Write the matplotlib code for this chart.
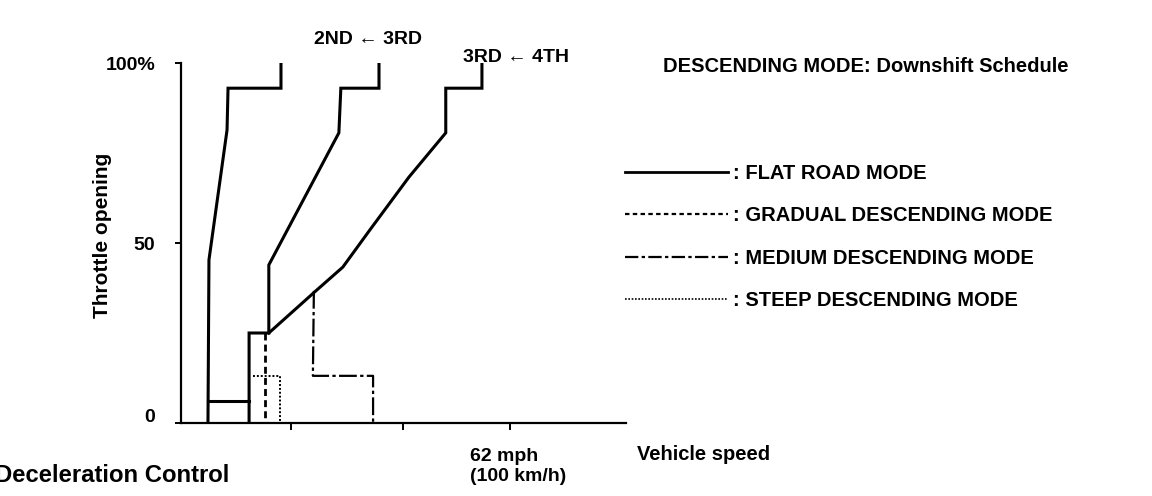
import matplotlib
matplotlib.use('Agg')
import matplotlib.pyplot as plt
from matplotlib.lines import Line2D
from matplotlib.transforms import ScaledTranslation

plt.rcParams['font.family'] = ['Liberation Sans', 'DejaVu Sans']
plt.rcParams['font.weight'] = 'bold'

# vehicle speed in km/h, throttle opening in %
flat_12_x = [30.4, 30.4, 14.3, 14.0, 8.5, 8.2]
flat_12_y = [100, 93, 93, 81.4, 45.3, 0]
flat_box_x = [8.2, 20.7]
flat_box_y = [6.1, 6.1]
flat_23_x = [60.2, 60.2, 48.6, 48.0, 26.7, 26.7, 20.7, 20.7]
flat_23_y = [100, 93, 93, 80.6, 43.9, 25, 25, 0]
flat_34_x = [91.5, 91.5, 80.5, 80.5, 69.3, 57.4, 49.2, 41.0, 26.7]
flat_34_y = [100, 93, 93, 80.6, 68.3, 53.6, 43.3, 36.7, 25]
gradual_x = [25.5, 25.5]
gradual_y = [25, 0]
medium_x = [40.4, 40.1, 58.4, 58.4]
medium_y = [36.7, 13.1, 13.1, 0]
steep_x = [21.9, 30.1, 30.1]
steep_y = [13.1, 13.1, 0]

y_ticks = [0, 50, 100]
y_tick_labels = ['0', '50', '100%']
x_ticks = [33.5, 67.5, 100]
shift_labels = ['2ND \u2190 3RD', '3RD \u2190 4TH']
mode_labels = [': FLAT ROAD MODE', ': GRADUAL DESCENDING MODE',
               ': MEDIUM DESCENDING MODE', ': STEEP DESCENDING MODE']

W, H = 1152, 496
fig = plt.figure(figsize=(W / 100, H / 100), dpi=100)
ax = fig.add_axes([181 / W, 73 / H, 445 / W, 360 / H])

lw = 2.2
ax.plot(flat_12_x, flat_12_y, color='black', lw=lw, solid_joinstyle='miter')
ax.plot(flat_box_x, flat_box_y, color='black', lw=lw)
ax.plot(flat_23_x, flat_23_y, color='black', lw=lw, solid_joinstyle='miter')
ax.plot(flat_34_x, flat_34_y, color='black', lw=lw, solid_joinstyle='miter')
ax.plot(gradual_x, gradual_y, color='black', lw=2.0, ls=(0, (2.5, 1.5)))
ax.plot(medium_x, medium_y, color='black', lw=1.6, ls=(0, (8, 1.5, 1.5, 1.5)))
ax.plot(steep_x, steep_y, color='black', lw=1.4, ls=(0, (1, 1)))

ax.set_xlim(0, 135.3)
ax.set_ylim(0, 100)
for s in ['top', 'right']:
    ax.spines[s].set_visible(False)
for s in ['left', 'bottom']:
    ax.spines[s].set_linewidth(1.6)

ax.set_yticks(y_ticks)
ax.set_yticklabels(y_tick_labels, fontsize=14, fontweight='bold')
ax.tick_params(axis='y', length=4.5, width=1.4, pad=14)
# the "0" label sits a little above the baseline in the original
zero_lab = ax.get_yticklabels()[0]
zero_lab.set_transform(zero_lab.get_transform() + ScaledTranslation(0, 0.08, fig.dpi_scale_trans))
ax.set_xticks(x_ticks)
ax.set_xticklabels([])
ax.tick_params(axis='x', length=5, width=1.4)
ax.set_ylabel('Throttle opening', fontsize=15, fontweight='bold')
ax.yaxis.set_label_coords(-0.155, 0.522)

ax.annotate('62 mph\n(100 km/h)', xy=(x_ticks[2], 0), xycoords='data',
            xytext=(-29, -18), textcoords='offset points', ha='left', va='top',
            fontsize=14, fontweight='bold', linespacing=1.25)

# shift line labels above the curves
fig.text(368 / W, 1 - 40 / H, shift_labels[0], ha='center', va='center', fontsize=14, fontweight='bold')
fig.text(516 / W, 1 - 57 / H, shift_labels[1], ha='center', va='center', fontsize=14, fontweight='bold')

fig.text(663 / W, 1 - 67 / H, 'DESCENDING MODE: Downshift Schedule', ha='left', va='center',
         fontsize=14.5, fontweight='bold')
fig.text(637 / W, 1 - 455 / H, 'Vehicle speed', ha='left', va='center', fontsize=14.5, fontweight='bold')
# left end is clipped by the page edge in the original scan
fig.text(229 / W, 1 - 476 / H, 'Deceleration Control', ha='right', va='center', fontsize=17.2, fontweight='bold')

handles = [
    Line2D([], [], color='black', lw=2.0),
    Line2D([], [], color='black', lw=1.6, ls=(0, (2, 1.5))),
    Line2D([], [], color='black', lw=1.6, ls=(0, (6, 1.5, 1.5, 1.5))),
    Line2D([], [], color='black', lw=1.2, ls=(0, (1, 1))),
]
fig.legend(handles, mode_labels, loc='upper left', bbox_to_anchor=(625 / W, 1 - 164 / H),
           frameon=False, borderpad=0, borderaxespad=0, handlelength=5.1, handletextpad=0.25,
           labelspacing=1.16, prop={'size': 14.5, 'weight': 'bold'})

fig.savefig('out.png', dpi=100)
